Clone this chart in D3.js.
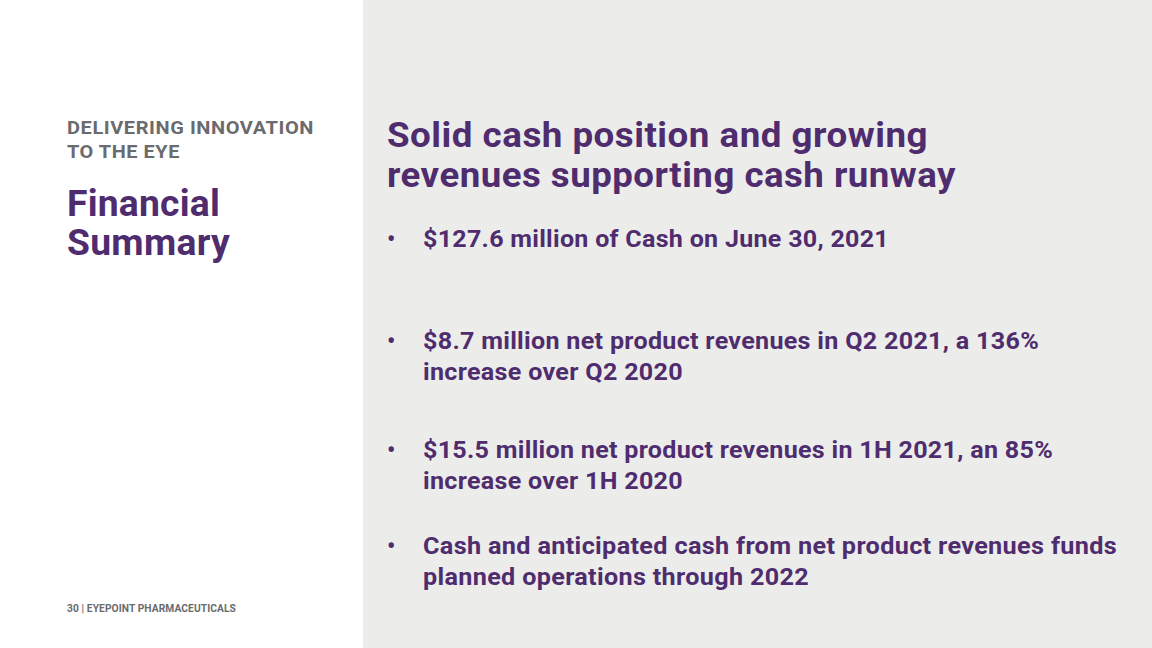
<!DOCTYPE html>
<html>
<head>
<meta charset="utf-8">
<script src="https://cdn.jsdelivr.net/npm/d3@7"></script>
<style>
  html, body { margin: 0; padding: 0; background: #fff; }
  svg { display: block; font-family: Roboto, "Noto Sans", sans-serif; }
</style>
</head>
<body>
<svg id="slide" width="1152" height="648"></svg>
<script>
// ---- content ----
const kickerLines = ["DELIVERING INNOVATION", "TO THE EYE"];
const sectionLines = ["Financial", "Summary"];
const headlineLines = ["Solid cash position and growing", "revenues supporting cash runway"];
const bulletItems = [
  ["$127.6 million of Cash on June 30, 2021"],
  ["$8.7 million net product revenues in Q2 2021, a 136%", "increase over Q2 2020"],
  ["$15.5 million net product revenues in 1H 2021, an 85%", "increase over 1H 2020"],
  ["Cash and anticipated cash from net product revenues funds", "planned operations through 2022"]
];
const footerText = "30 | EYEPOINT PHARMACEUTICALS";

// ---- layout / style (right edges of each text line, as seen on the slide) ----
const W = 1152, H = 648;
const purple = "#4f2c6e", grey = "#6b6b6e", panel = "#ececeb";
const kickerEnds = [314, 180];
const sectionEnds = [220, 230];
const headlineEnds = [928, 956];
const bulletEnds = [[889], [1039, 683], [1053, 683], [1117, 809]];
const footerEnd = 236;

const svg = d3.select("#slide");
const splitX = 363;

svg.append("rect").attr("x", 0).attr("y", 0).attr("width", W).attr("height", H).attr("fill", "#ffffff");
svg.append("rect").attr("x", splitX).attr("y", 0).attr("width", W - splitX).attr("height", H).attr("fill", panel);

// half of the extra width as tracking, half as glyph widening
function fit(sel, x, ends) {
  sel.each(function(d, i) {
    const len = this.getComputedTextLength();
    const n = d.length;
    const extra = ends[i] - x - len;
    const ls = 0.35 * extra / Math.max(1, n - 1);
    d3.select(this).attr("letter-spacing", ls.toFixed(3))
      .attr("textLength", ends[i] - x)
      .attr("lengthAdjust", "spacingAndGlyphs");
  });
}

function lines(g, arr, x, y0, step, size, color, ends) {
  const t = g.selectAll(null).data(arr).join("text")
    .attr("x", x)
    .attr("y", (d, i) => y0 + i * step)
    .attr("font-size", size)
    .attr("font-weight", 700)
    .attr("fill", color)
    .text(d => d);
  if (ends) fit(t, x, ends);
  return t;
}

const left = svg.append("g");
lines(left, kickerLines, 67, 134, 24, 18.5, grey, kickerEnds);
lines(left, sectionLines, 67, 216, 39, 36.5, purple, sectionEnds);
lines(left, [footerText], 67, 612, 0, 10, grey, [footerEnd]);

const right = svg.append("g");
lines(right, headlineLines, 387, 147, 39.5, 35, purple, headlineEnds);

const firstBaselines = [247, 349, 458, 554];
const bulletG = right.selectAll("g.b").data(bulletItems).join("g").attr("class", "b")
  .attr("transform", (d, i) => `translate(0,${firstBaselines[i]})`);
bulletG.append("text").attr("x", 387).attr("y", 0).attr("font-size", 23).attr("font-weight", 700)
  .attr("fill", purple).text("•");
bulletG.each(function(d, i) {
  lines(d3.select(this), d, 423, 0, 31, 24, purple, bulletEnds[i]);
});
</script>
</body>
</html>
